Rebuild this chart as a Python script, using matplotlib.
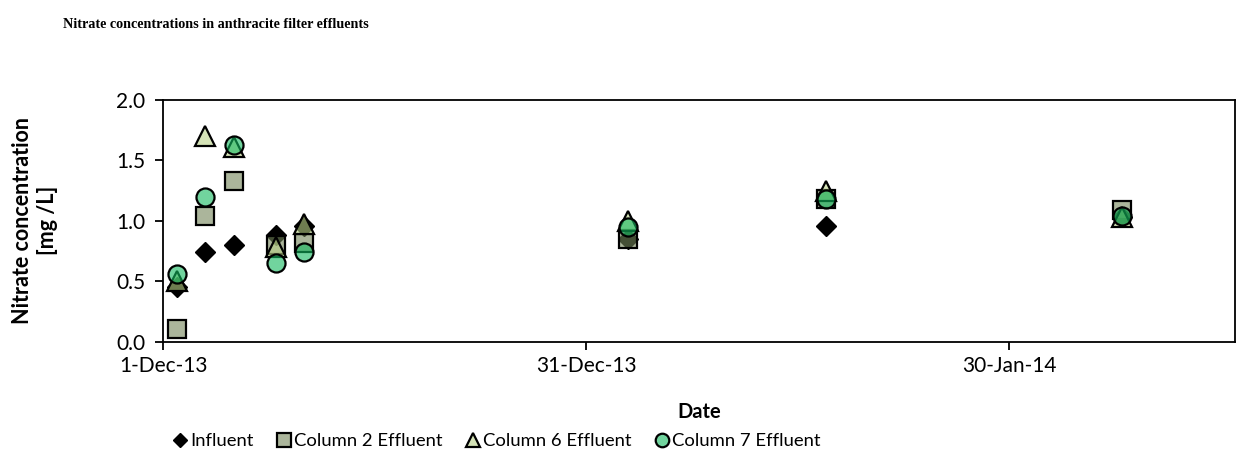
import matplotlib
matplotlib.use("Agg")
import matplotlib.pyplot as plt
import datetime as dt

# sampling dates
dates = ["2013-12-02", "2013-12-04", "2013-12-06", "2013-12-09", "2013-12-11",
         "2014-01-03", "2014-01-17", "2014-02-07"]

influent = [0.45, 0.74, 0.80, 0.88, 0.96, 0.85, 0.96, 1.03]
col2 = [0.11, 1.04, 1.33, 0.80, 0.82, 0.85, 1.18, 1.09]
col6 = [0.50, 1.70, 1.61, 0.78, 0.97, 1.00, 1.25, 1.03]
col7 = [0.56, 1.20, 1.63, 0.65, 0.74, 0.95, 1.18, 1.04]

labels = ["Influent", "Column 2 Effluent", "Column 6 Effluent", "Column 7 Effluent"]

x = [dt.datetime.strptime(d, "%Y-%m-%d") for d in dates]

plt.rcParams['font.family'] = ['Lato', 'DejaVu Sans']

fig = plt.figure(figsize=(12.36, 4.62), dpi=100)
ax = fig.add_axes([0.132, 0.26, 0.867, 0.524])

a = 0.6
ax.plot(x, influent, ls='none', marker='D', ms=10, mfc='black', mec='black', mew=1, label=labels[0], zorder=3)
ax.plot(x, col2, ls='none', marker='s', ms=13, mfc=(0.45, 0.52, 0.35, a), mec='black', mew=1.6, label=labels[1], zorder=4)
ax.plot(x, col6, ls='none', marker='^', ms=14, mfc=(0.73, 0.82, 0.53, a), mec='black', mew=1.6, label=labels[2], zorder=5)
ax.plot(x, col7, ls='none', marker='o', ms=13, mfc=(0.07, 0.72, 0.37, a), mec='black', mew=1.6, label=labels[3], zorder=6)

ax.set_xlim(dt.datetime(2013, 12, 1), dt.datetime(2014, 2, 15))
ax.set_ylim(0, 2.0)
ax.set_yticks([0, 0.5, 1.0, 1.5, 2.0])
ax.set_yticklabels(["0.0", "0.5", "1.0", "1.5", "2.0"])
xt = [dt.datetime(2013, 12, 1), dt.datetime(2013, 12, 31), dt.datetime(2014, 1, 30)]
ax.set_xticks(xt)
ax.set_xticklabels(["1-Dec-13", "31-Dec-13", "30-Jan-14"])

for s in ax.spines.values():
    s.set_linewidth(1.3)
    s.set_color('black')
ax.tick_params(axis='both', direction='out', length=6, width=1.3, labelsize=15)
ax.tick_params(axis='y', pad=7)
ax.tick_params(axis='x', pad=4)

ax.set_xlabel("Date", fontsize=14.5, fontweight='bold', labelpad=19)
ax.set_ylabel("Nitrate concentration\n[mg /L]", fontsize=15.5, fontweight='bold', labelpad=42)

fig.text(0.051, 0.94, "Nitrate concentrations in anthracite filter effluents",
         family='Liberation Serif', fontweight='bold', fontsize=10.2)

leg = fig.legend(loc='center', bbox_to_anchor=(0.401, 0.045), ncol=4, frameon=False,
                 fontsize=13.3, handletextpad=0.05, columnspacing=1.15, markerscale=0.75,
                 handlelength=1.0)

fig.savefig("out.png", dpi=100)
